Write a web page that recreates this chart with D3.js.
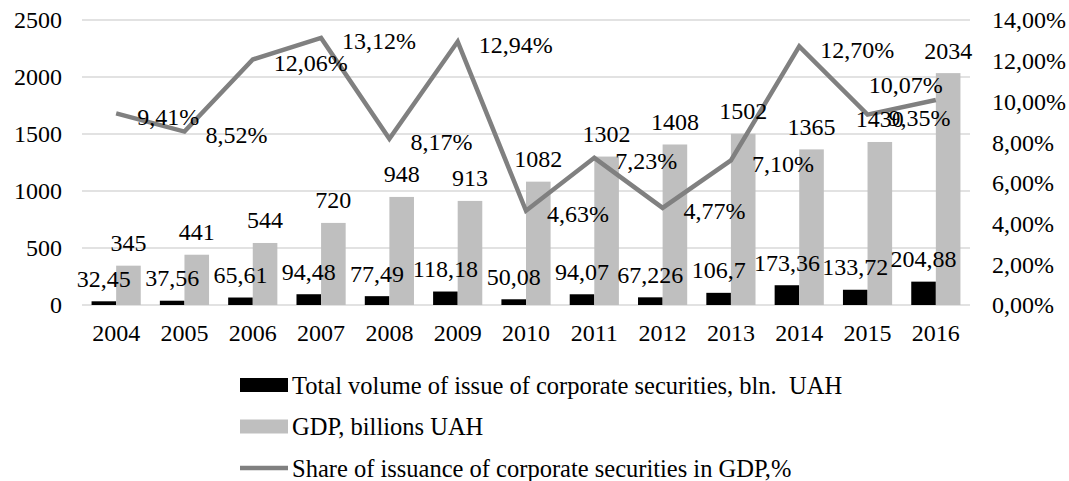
<!DOCTYPE html>
<html>
<head>
<meta charset="utf-8">
<script src="https://cdn.jsdelivr.net/npm/d3@7/dist/d3.min.js"></script>
<style>
  html, body { margin: 0; padding: 0; background: #fff; }
</style>
</head>
<body>
<svg id="chart" width="1069" height="481" font-family="Liberation Serif"></svg>
<script>
const years = ["2004","2005","2006","2007","2008","2009","2010","2011","2012","2013","2014","2015","2016"];
const securities = [32.45, 37.56, 65.61, 94.48, 77.49, 118.18, 50.08, 94.07, 67.226, 106.7, 173.36, 133.72, 204.88];
const gdp = [345, 441, 544, 720, 948, 913, 1082, 1302, 1408, 1502, 1365, 1430, 2034];
const share = [9.41, 8.52, 12.06, 13.12, 8.17, 12.94, 4.63, 7.23, 4.77, 7.10, 12.70, 9.35, 10.07];
const leftTicks = [0, 500, 1000, 1500, 2000, 2500];
const rightTicks = [0, 2, 4, 6, 8, 10, 12, 14];
const legendLabels = [
  "Total volume of issue of corporate securities, bln.  UAH",
  "GDP, billions UAH",
  "Share of issuance of corporate securities in GDP,%"
];

const svg = d3.select("#chart");
const FS = 24;
const plot = { left: 82, right: 970, top: 20, bottom: 305 };

const x = d3.scaleBand().domain(years).range([plot.left, plot.right]).padding(0);
const yL = d3.scaleLinear().domain([0, 2500]).range([plot.bottom, plot.top]);
const yR = d3.scaleLinear().domain([0, 14]).range([plot.bottom, plot.top]);
const bw = x.bandwidth() * 0.36;
const cx = d => x(d) + x.bandwidth() / 2;

const colBlack = "#000000", colGray = "#bfbfbf", colLine = "#808080", colGrid = "#d9d9d9";

// gridlines
svg.append("g").selectAll("line").data(leftTicks).join("line")
  .attr("x1", plot.left).attr("x2", plot.right)
  .attr("y1", d => yL(d)).attr("y2", d => yL(d))
  .attr("stroke", colGrid).attr("stroke-width", 1.5);

// left axis labels
svg.append("g").selectAll("text").data(leftTicks).join("text")
  .attr("x", 62).attr("y", d => yL(d)).attr("dy", "0.35em")
  .attr("text-anchor", "end").attr("font-size", FS)
  .text(d => d);

// right axis labels
svg.append("g").selectAll("text").data(rightTicks).join("text")
  .attr("x", 992).attr("y", d => yR(d)).attr("dy", "0.35em")
  .attr("text-anchor", "start").attr("font-size", FS)
  .text(d => d.toFixed(2).replace(".", ",") + "%");

// x axis labels
svg.append("g").selectAll("text").data(years).join("text")
  .attr("x", d => cx(d)).attr("y", 333).attr("dy", "0.35em")
  .attr("text-anchor", "middle").attr("font-size", FS)
  .text(d => d);

// bars
svg.append("g").selectAll("rect").data(years).join("rect")
  .attr("x", d => cx(d) - bw).attr("width", bw)
  .attr("y", (d, i) => yL(securities[i]))
  .attr("height", (d, i) => yL(0) - yL(securities[i]))
  .attr("fill", colBlack);
svg.append("g").selectAll("rect").data(years).join("rect")
  .attr("x", d => cx(d)).attr("width", bw)
  .attr("y", (d, i) => yL(gdp[i]))
  .attr("height", (d, i) => yL(0) - yL(gdp[i]))
  .attr("fill", colGray);

// line
const line = d3.line().x((d, i) => cx(years[i])).y(d => yR(d));
svg.append("path").datum(share)
  .attr("d", line).attr("fill", "none")
  .attr("stroke", colLine).attr("stroke-width", 4.5)
  .attr("stroke-linejoin", "miter");

// bar labels
svg.append("g").selectAll("text").data(securities).join("text")
  .attr("x", (d, i) => cx(years[i]) - bw / 2)
  .attr("y", d => yL(d) - 23).attr("dy", "0.35em")
  .attr("text-anchor", "middle").attr("font-size", FS)
  .text(d => String(d).replace(".", ","));
svg.append("g").selectAll("text").data(gdp).join("text")
  .attr("x", (d, i) => cx(years[i]) + bw / 2)
  .attr("y", d => yL(d) - 23).attr("dy", "0.35em")
  .attr("text-anchor", "middle").attr("font-size", FS)
  .text(d => d);

// line labels (right of point; last one above-left)
const n = share.length;
svg.append("g").selectAll("text").data(share).join("text")
  .attr("x", (d, i) => i === n - 1 ? cx(years[i]) + 7 : cx(years[i]) + 21)
  .attr("y", (d, i) => i === n - 1 ? yR(d) - 15 : yR(d) + 3)
  .attr("dy", "0.35em")
  .attr("text-anchor", (d, i) => i === n - 1 ? "end" : "start")
  .attr("font-size", FS)
  .text(d => d.toFixed(2).replace(".", ",") + "%");

// legend
const lg = svg.append("g");
const rowY = [385, 426.5, 468];
lg.append("rect").attr("x", 240).attr("y", rowY[0] - 7).attr("width", 48).attr("height", 14).attr("fill", colBlack);
lg.append("rect").attr("x", 240).attr("y", rowY[1] - 7).attr("width", 48).attr("height", 14).attr("fill", colGray);
lg.append("line").attr("x1", 240).attr("x2", 288).attr("y1", rowY[2]).attr("y2", rowY[2])
  .attr("stroke", colLine).attr("stroke-width", 4.5);
lg.selectAll("text").data(legendLabels).join("text")
  .attr("x", 292).attr("y", (d, i) => rowY[i]).attr("dy", "0.35em")
  .attr("font-size", 24.5)
  .style("white-space", "pre")
  .text(d => d);
</script>
</body>
</html>
